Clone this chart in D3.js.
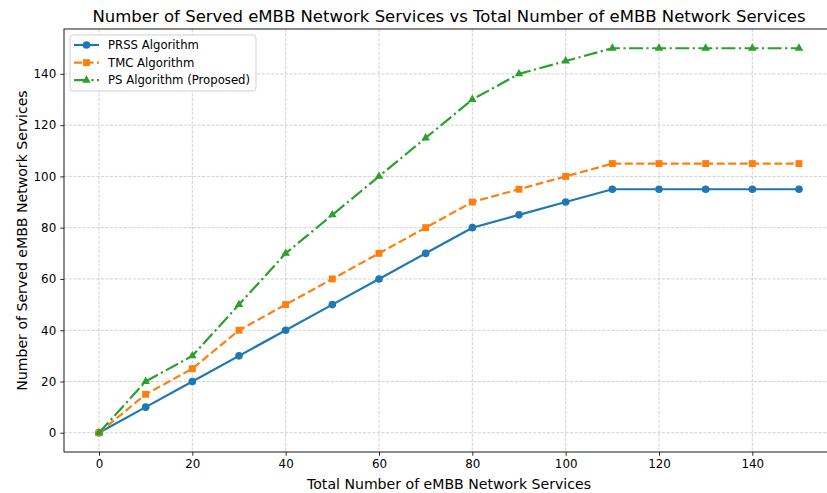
<!DOCTYPE html>
<html>
<head>
<meta charset="utf-8">
<script src="https://cdn.jsdelivr.net/npm/d3@7"></script>
<style>
  body { margin: 0; background: #fff; }
  text { font-family: "DejaVu Sans", sans-serif; fill: #000; }
</style>
</head>
<body>
<svg id="chart"></svg>
<script>
// Data
const totalServices = [0, 10, 20, 30, 40, 50, 60, 70, 80, 90, 100, 110, 120, 130, 140, 150];
const prss = [0, 10, 20, 30, 40, 50, 60, 70, 80, 85, 90, 95, 95, 95, 95, 95];
const tmc = [0, 15, 25, 40, 50, 60, 70, 80, 90, 95, 100, 105, 105, 105, 105, 105];
const ps = [0, 20, 30, 50, 70, 85, 100, 115, 130, 140, 145, 150, 150, 150, 150, 150];
const seriesNames = ["PRSS Algorithm", "TMC Algorithm", "PS Algorithm (Proposed)"];
const xTicks = [0, 20, 40, 60, 80, 100, 120, 140];
const yTicks = [0, 20, 40, 60, 80, 100, 120, 140];

const W = 827, H = 493;
const margin = { top: 29, right: -7, bottom: 41, left: 64 };
const width = W - margin.left - margin.right;
const height = H - margin.top - margin.bottom;

const series = [
  { name: seriesNames[0], values: prss, color: "#1f77b4", dash: null, marker: "circle" },
  { name: seriesNames[1], values: tmc, color: "#ff7f0e", dash: "8,3.5", marker: "square" },
  { name: seriesNames[2], values: ps, color: "#2ca02c", dash: "13.9,3.5,2.2,3.5", marker: "triangle" },
];

const svg = d3.select("#chart").attr("width", W).attr("height", H);

const g = svg.append("g").attr("transform", `translate(${margin.left},${margin.top})`);

const x = d3.scaleLinear().domain([-7.5, 157.5]).range([0, width]);
const y = d3.scaleLinear().domain([-7.5, 157.5]).range([height, 0]);

// grid
g.append("g").selectAll("line").data(xTicks).join("line")
  .attr("x1", (d) => x(d)).attr("x2", (d) => x(d))
  .attr("y1", 0).attr("y2", height)
  .attr("stroke", "#b0b0b0").attr("stroke-opacity", 0.7)
  .attr("stroke-width", 0.8).attr("stroke-dasharray", "3.2,1.4");
g.append("g").selectAll("line").data(yTicks).join("line")
  .attr("y1", (d) => y(d)).attr("y2", (d) => y(d))
  .attr("x1", 0).attr("x2", width)
  .attr("stroke", "#b0b0b0").attr("stroke-opacity", 0.7)
  .attr("stroke-width", 0.8).attr("stroke-dasharray", "3.2,1.4");

// axes
const xAxis = g.append("g").attr("transform", `translate(0,${height})`)
  .call(d3.axisBottom(x).tickValues(xTicks).tickSize(3.8).tickPadding(4).tickFormat(d3.format("d")));
const yAxis = g.append("g")
  .call(d3.axisLeft(y).tickValues(yTicks).tickSize(3.8).tickPadding(4).tickFormat(d3.format("d")));
[xAxis, yAxis].forEach((a) => {
  a.select(".domain").remove();
  a.selectAll("text").style("font-size", "11.9px").style("font-family", "DejaVu Sans").attr("fill", "#000");
  a.selectAll("line").attr("stroke", "#000").attr("stroke-width", 0.8);
});

// frame
g.append("rect").attr("width", width).attr("height", height)
  .attr("fill", "none").attr("stroke", "#000").attr("stroke-width", 0.9);

// lines + markers
const line = d3.line().x((d, i) => x(totalServices[i])).y((d) => y(d));
const symbolFor = {
  circle: d3.symbol().type(d3.symbolCircle).size(46),
  square: d3.symbol().type(d3.symbolSquare).size(48),
  triangle: d3.symbol().type(d3.symbolTriangle2).size(52),
};

series.forEach((s) => {
  g.append("path").datum(s.values)
    .attr("d", line).attr("fill", "none")
    .attr("stroke", s.color).attr("stroke-width", 2.2)
    .attr("stroke-dasharray", s.dash);
  g.append("g").selectAll("path").data(s.values).join("path")
    .attr("transform", (d, i) => `translate(${x(totalServices[i])},${y(d)})`)
    .attr("d", symbolFor[s.marker]())
    .attr("fill", s.color);
});

// legend
const lg = g.append("g").attr("transform", "translate(6,6)");
lg.append("rect").attr("width", 186).attr("height", 56).attr("rx", 3)
  .attr("fill", "#fff").attr("fill-opacity", 0.8).attr("stroke", "#ccc").attr("stroke-width", 0.9);
series.forEach((s, i) => {
  const row = lg.append("g").attr("transform", `translate(0,${10 + i * 17.6})`);
  row.append("line").attr("x1", 4).attr("x2", 29).attr("y1", 0).attr("y2", 0)
    .attr("stroke", s.color).attr("stroke-width", 2.2).attr("stroke-dasharray", s.dash);
  row.append("path").attr("transform", "translate(16.5,0)").attr("d", symbolFor[s.marker]()).attr("fill", s.color);
  row.append("text").attr("x", 38).attr("y", 4.2).style("font-size", "11.7px").text(s.name);
});

// labels
svg.append("text").attr("x", margin.left + width / 2).attr("y", 22)
  .attr("text-anchor", "middle").style("font-size", "16.5px")
  .text("Number of Served eMBB Network Services vs Total Number of eMBB Network Services");
svg.append("text").attr("x", margin.left + width / 2).attr("y", 489)
  .attr("text-anchor", "middle").style("font-size", "14.1px")
  .text("Total Number of eMBB Network Services");
svg.append("text").attr("transform", `translate(27,${margin.top + height / 2}) rotate(-90)`)
  .attr("text-anchor", "middle").style("font-size", "14.1px")
  .text("Number of Served eMBB Network Services");
</script>
</body>
</html>
